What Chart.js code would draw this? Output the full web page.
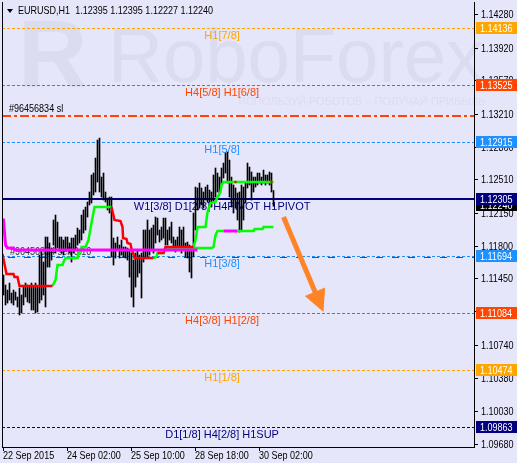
<!DOCTYPE html>
<html>
<head>
<meta charset="utf-8">
<script src="https://cdn.jsdelivr.net/npm/chart.js@4.4.0/dist/chart.umd.min.js"></script>
<style>
  html, body { margin: 0; padding: 0; background: #E6E6FA; }
  #caja { width: 517px; height: 463px; }
</style>
</head>
<body>
<div id="caja"><canvas id="grafico" width="517" height="463"></canvas></div>
<script>
// Datos del gráfico EURUSD H1
const simbolo = 'EURUSD,H1';
const valoresTitulo = [1.12395, 1.12395, 1.12227, 1.12240];
const etiquetasTiempo = ['22 Sep 2015', '24 Sep 02:00', '25 Sep 10:00', '28 Sep 18:00', '30 Sep 02:00'];
const barrasTiempo = [0, 32, 64, 96, 128];
const ticksPrecio = [1.14280, 1.13920, 1.13570, 1.13210, 1.12860, 1.12510, 1.12150, 1.11800,
    1.11450, 1.11100, 1.10740, 1.10380, 1.10030, 1.09680];

const maximos = [
    1.11490, 1.11383, 1.11329, 1.11404, 1.11297, 1.11329, 1.11308, 1.11254, 1.11351, 1.11276,
    1.11361, 1.11404, 1.11383, 1.11361, 1.11404, 1.11361, 1.11404, 1.11361, 1.11704, 1.11758,
    1.11629, 1.11897, 1.11897, 1.11833, 1.11779, 1.12079, 1.12132, 1.12057, 1.11897, 1.11897,
    1.11865, 1.11897, 1.11897, 1.11833, 1.11886, 1.11886, 1.11918, 1.11993, 1.11972, 1.12132,
    1.12186, 1.12218, 1.12272, 1.12379, 1.12561, 1.12582, 1.12743, 1.12936, 1.12957, 1.12539,
    1.12582, 1.12379, 1.12314, 1.12325, 1.12325, 1.11886, 1.11833, 1.11897, 1.11811, 1.11865,
    1.11790, 1.11790, 1.11779, 1.11758, 1.11725, 1.11650, 1.11725, 1.11758, 1.11704, 1.11725,
    1.11972, 1.11972, 1.12079, 1.11972, 1.11993, 1.12025, 1.12111, 1.12100, 1.11972, 1.12004,
    1.12100, 1.12100, 1.11972, 1.12004, 1.12057, 1.11897, 1.11865, 1.11897, 1.12004, 1.11972,
    1.12004, 1.11833, 1.11843, 1.11811, 1.11758, 1.12154, 1.12432, 1.12422, 1.12475, 1.12422,
    1.12379, 1.12432, 1.12454, 1.12400, 1.12379, 1.12561, 1.12636, 1.12582, 1.12539, 1.12636,
    1.12689, 1.12796, 1.12807, 1.12721, 1.12539, 1.12454, 1.12422, 1.12368, 1.12379, 1.12454,
    1.12432, 1.12475, 1.12689, 1.12646, 1.12593, 1.12539, 1.12539, 1.12582, 1.12582, 1.12539,
    1.12614, 1.12561, 1.12561, 1.12593, 1.12582, 1.12395
];
const minimos = [
    1.11276, 1.11169, 1.11190, 1.11222, 1.11190, 1.11169, 1.11222, 1.11148, 1.11062, 1.11083,
    1.11169, 1.11254, 1.11201, 1.11190, 1.11115, 1.11115, 1.11083, 1.11094, 1.11190, 1.11222,
    1.11276, 1.11148, 1.11575, 1.11575, 1.11650, 1.11811, 1.11725, 1.11779, 1.11758, 1.11725,
    1.11704, 1.11758, 1.11758, 1.11725, 1.11629, 1.11725, 1.11758, 1.11811, 1.11833, 1.11865,
    1.11939, 1.11972, 1.12111, 1.12240, 1.12261, 1.12347, 1.12379, 1.12486, 1.12379, 1.12325,
    1.12293, 1.12272, 1.12186, 1.12154, 1.11683, 1.11597, 1.11672, 1.11758, 1.11672, 1.11704,
    1.11683, 1.11672, 1.11650, 1.11468, 1.11254, 1.11148, 1.11361, 1.11468, 1.11511, 1.11244,
    1.11629, 1.11672, 1.11683, 1.11704, 1.11758, 1.11725, 1.11833, 1.11918, 1.11843, 1.11865,
    1.11886, 1.11811, 1.11811, 1.11865, 1.11833, 1.11779, 1.11736, 1.11758, 1.11779, 1.11725,
    1.11758, 1.11683, 1.11672, 1.11522, 1.11458, 1.11683, 1.11972, 1.12186, 1.12207, 1.12240,
    1.12207, 1.12293, 1.12272, 1.12218, 1.12218, 1.12272, 1.12325, 1.12379, 1.12368, 1.12454,
    1.12529, 1.12582, 1.12475, 1.12325, 1.12218, 1.12154, 1.12207, 1.12079, 1.11950, 1.11972,
    1.12079, 1.12261, 1.12422, 1.12454, 1.12293, 1.12379, 1.12432, 1.12454, 1.12475, 1.12454,
    1.12475, 1.12454, 1.12475, 1.12454, 1.12379, 1.12227
];

// Líneas del indicador: [barra, precio], null = corte
const lineaRoja = [
    [-0.5, 1.11715], [1.5, 1.11500], [5, 1.11500], [5.5, 1.11468], [7, 1.11468], [8, 1.11372], [24.5, 1.11372], null,
    [54, 1.12218], [55.5, 1.12079], [58.5, 1.12068], [59.5, 1.12004], [59.8, 1.11886], [61.5, 1.11875], [62, 1.11833],
    [63.5, 1.11822], [64, 1.11768], [65, 1.11715], [65.5, 1.11672], [75, 1.11672], null,
    [77, 1.11725], [80, 1.11725], [81, 1.11790], [95, 1.11790], null,
    [115.5, 1.12486], [116.5, 1.12486], null,
    [133.5, 1.12486], [134.5, 1.12486]
];
const lineaVerde = [
    [24.5, 1.11372], [26, 1.11436], [27, 1.11597], [29.5, 1.11597], [30, 1.11629], [31, 1.11672], [37, 1.11672],
    [37.5, 1.11725], [38.5, 1.11725], [39, 1.11790], [41, 1.11790], [42.5, 1.11865], [44, 1.12047], [45.5, 1.12218],
    [54, 1.12218], null,
    [75, 1.11672], [76.5, 1.11688], [77, 1.11725], [80, 1.11725], [81, 1.11779], [104, 1.11779], [105, 1.11790],
    [106, 1.11918], [107, 1.11961], [110, 1.11961], null,
    [117, 1.11961], [125, 1.11961], [125.5, 1.11982], [129.5, 1.11982], [130, 1.12004], [135, 1.12004]
];
const lineaVerdeAlta = [
    [95, 1.11790], [96, 1.11865], [97, 1.12004], [101, 1.12004], [102, 1.12164], [103.5, 1.12261], [106, 1.12272],
    [107, 1.12325], [108.5, 1.12379], [109, 1.12454], [110, 1.12486], [135, 1.12486]
];
const lineaMagenta = [
    [-0.5, 1.12079], [0, 1.12079], [1, 1.11811], [2, 1.11779], [5, 1.11779], [5.5, 1.11758], [97, 1.11758], null,
    [110, 1.11961], [117, 1.11961]
];

// Niveles Murrey
const nivelesPrecio = [1.14136, 1.13525, 1.12915, 1.12305, 1.11694, 1.11084, 1.10474, 1.09863];
const nivelesNombre = ['H1[7/8]', 'H4[5/8] H1[6/8]', 'H1[5/8]', 'W1[3/8] D1[2/8] H4PIVOT H1PIVOT',
    'H1[3/8]', 'H4[3/8] H1[2/8]', 'H1[1/8]', 'D1[1/8] H4[2/8] H1SUP'];

// Orden abierta
const ordenTicket = '#96456834';
const ordenEntrada = 1.11684;
const ordenLotes = '0.10';
const ordenStop = 1.13193;
const precioBid = 1.12240;
const flechaDesde = [140, 1.12111];
const flechaHasta = [160, 1.11094];

// Estilos
const coloresNivel = ['#FFA500', '#FF4500', '#1E90FF', '#000080', '#1E90FF', '#FF4500', '#FFA500', '#000080'];
const fuenteNormal = '"Liberation Sans", Arial, sans-serif';

const aPuntos = (lista) => lista.map((p, k) => p ? { x: p[0], y: p[1] } : { x: lista[k - 1][0], y: null });

// Texto estrecho (tipo Tahoma/Arial Narrow del terminal)
function textoEstrecho(c, texto, x, y, alinear) {
    c.save();
    c.translate(x, y);
    c.scale(0.82, 1);
    c.textAlign = alinear || 'left';
    c.fillText(texto, 0, 0);
    c.restore();
}

const plugDibujo = {
    id: 'dibujo',
    beforeDraw(chart) {
        const c = chart.ctx;
        c.save();
        c.fillStyle = '#E6E6FA';
        c.fillRect(0, 0, chart.width, chart.height);
        // marca de agua
        c.fillStyle = '#DCDCF1';
        c.textBaseline = 'alphabetic';
        c.textAlign = 'left';
        c.font = 'bold 96px ' + fuenteNormal;
        c.fillText('R', 18, 87);
        c.font = '76px ' + fuenteNormal;
        c.fillText('RoboForex', 108, 82);
        c.font = '11px ' + fuenteNormal;
        c.fillText('ИСПОЛЬЗУЙ РОБОТОВ – ПОЛУЧАЙ ПРИБЫЛЬ', 238, 105);
        c.restore();
    },
    beforeDatasetsDraw(chart) {
        const { ctx: c, chartArea: a, scales: { x, y } } = chart;
        c.save();
        c.beginPath();
        c.rect(a.left, a.top, a.right - a.left, a.bottom - a.top);
        c.clip();

        // stop loss
        let py = Math.round(y.getPixelForValue(ordenStop));
        c.strokeStyle = '#FF4500';
        c.lineWidth = 2;
        c.setLineDash([9, 3, 3, 3]);
        c.beginPath(); c.moveTo(a.left, py); c.lineTo(a.right, py); c.stroke();
        c.font = '11px ' + fuenteNormal;
        c.fillStyle = '#000';
        c.textBaseline = 'bottom';
        textoEstrecho(c, ordenTicket + ' sl', 9, py - 2);

        // niveles
        nivelesPrecio.forEach((p, k) => {
            const solida = k === 3;
            const ly = solida ? Math.round(y.getPixelForValue(p)) : Math.round(y.getPixelForValue(p)) + 0.5;
            c.strokeStyle = coloresNivel[k];
            c.lineWidth = solida ? 2 : 1;
            c.setLineDash(solida ? [] : [3, 2]);
            c.beginPath(); c.moveTo(a.left, ly); c.lineTo(a.right, ly); c.stroke();
            c.fillStyle = coloresNivel[k];
            c.font = '11px ' + fuenteNormal;
            c.textAlign = 'center';
            c.textBaseline = 'middle';
            c.fillText(nivelesNombre[k], x.getPixelForValue(109.3), ly + 7.5);
        });

        // entrada de la orden
        py = Math.round(y.getPixelForValue(ordenEntrada)) + 0.5;
        c.strokeStyle = '#0A7A0A';
        c.lineWidth = 1;
        c.setLineDash([7, 9]);
        c.beginPath(); c.moveTo(a.left + 6, py); c.lineTo(a.right, py); c.stroke();
        c.setLineDash([]);
        c.font = '11px ' + fuenteNormal;
        c.fillStyle = '#303030';
        c.textBaseline = 'bottom';
        textoEstrecho(c, ordenTicket + ' sell ' + ordenLotes, 10, py - 0.5);
        c.restore();
    },
    afterDatasetsDraw(chart) {
        const { ctx: c, scales: { x, y } } = chart;
        const x0 = x.getPixelForValue(flechaDesde[0]), y0 = y.getPixelForValue(flechaDesde[1]);
        const x1 = x.getPixelForValue(flechaHasta[0]), y1 = y.getPixelForValue(flechaHasta[1]);
        const len = Math.hypot(x1 - x0, y1 - y0);
        const ux = (x1 - x0) / len, uy = (y1 - y0) / len;
        const bx = x1 - ux * 22, by = y1 - uy * 22;
        c.save();
        c.strokeStyle = '#FF8427';
        c.fillStyle = '#FF8427';
        c.lineWidth = 5;
        c.beginPath(); c.moveTo(x0, y0); c.lineTo(bx + ux * 2, by + uy * 2); c.stroke();
        c.beginPath();
        c.moveTo(x1, y1);
        c.lineTo(bx - uy * 11, by + ux * 11);
        c.lineTo(bx + uy * 11, by - ux * 11);
        c.closePath();
        c.fill();
        c.restore();
    },
    afterDraw(chart) {
        const { ctx: c, chartArea: a, scales: { x, y } } = chart;
        c.save();
        // borde izquierdo
        c.strokeStyle = '#000';
        c.lineWidth = 1;
        c.beginPath(); c.moveTo(a.left + 0.5, a.top); c.lineTo(a.left + 0.5, a.bottom); c.stroke();

        c.font = '11px ' + fuenteNormal;
        c.fillStyle = '#000';
        c.textBaseline = 'middle';
        // etiquetas de los ejes
        ticksPrecio.forEach(v => textoEstrecho(c, v.toFixed(5), a.right + 7, y.getPixelForValue(v) + 0.5));
        barrasTiempo.forEach((b, k) => textoEstrecho(c, etiquetasTiempo[k], x.getPixelForValue(b) - 0.5, 456));

        // cajas de precio
        const cajas = [[precioBid, '#000000']].concat(nivelesPrecio.map((p, k) => [p, coloresNivel[k]]));
        cajas.forEach(([p, col]) => {
            const cy = Math.round(y.getPixelForValue(p));
            c.fillStyle = col;
            c.fillRect(a.right + 2, cy - 6, chart.width - a.right - 2, 12);
            c.fillStyle = '#FFFFFF';
            textoEstrecho(c, p.toFixed(5), a.right + 6, cy + 0.5);
        });

        // título
        c.fillStyle = '#000';
        c.beginPath(); c.moveTo(7, 9); c.lineTo(13, 9); c.lineTo(10, 13); c.closePath(); c.fill();
        textoEstrecho(c, simbolo + '  ' + valoresTitulo.map(v => v.toFixed(5)).join(' '), 18, 11);
        c.restore();
    }
};

const datosBarras = maximos.map((h, i) => ({ x: i, y: [minimos[i], h] }));

new Chart(document.getElementById('grafico'), {
    type: 'bar',
    data: {
        datasets: [
            { type: 'line', data: aPuntos(lineaMagenta), borderColor: '#FF00FF', borderWidth: 3, pointRadius: 0, tension: 0, spanGaps: false, order: 0 },
            { type: 'line', data: aPuntos(lineaRoja), borderColor: '#FF0000', borderWidth: 2.5, pointRadius: 0, tension: 0, spanGaps: false, order: 1 },
            { type: 'line', data: aPuntos(lineaVerde), borderColor: '#00FF00', borderWidth: 2.5, pointRadius: 0, tension: 0, spanGaps: false, order: 2 },
            { type: 'line', data: aPuntos(lineaVerdeAlta), borderColor: '#00FF00', borderWidth: 2.5, pointRadius: 0, tension: 0, spanGaps: false, order: 3 },
            { type: 'bar', data: datosBarras, backgroundColor: '#000000', barThickness: 1, order: 10 }
        ]
    },
    options: {
        responsive: false,
        animation: false,
        devicePixelRatio: 1,
        events: [],
        layout: { padding: { left: 2, top: 2, right: 0, bottom: 0 } },
        plugins: { legend: { display: false }, tooltip: { enabled: false } },
        scales: {
            x: {
                type: 'linear',
                min: -0.75,
                max: 235.25,
                offset: false,
                afterBuildTicks: (ax) => { ax.ticks = barrasTiempo.map(v => ({ value: v })); },
                afterFit: (ax) => { ax.height = 16; },
                ticks: { display: false },
                grid: { drawOnChartArea: false, drawTicks: true, tickLength: 4, color: '#000', offset: false },
                border: { display: true, color: '#000' }
            },
            y: {
                type: 'linear',
                position: 'right',
                min: 1.09648,
                max: 1.14414,
                afterBuildTicks: (ax) => { ax.ticks = ticksPrecio.map(v => ({ value: v })); },
                afterFit: (ax) => { ax.width = 43; },
                ticks: { display: false },
                grid: { drawOnChartArea: false, drawTicks: true, tickLength: 4, color: '#000' },
                border: { display: true, color: '#000' }
            }
        }
    },
    plugins: [plugDibujo]
});
</script>
</body>
</html>
